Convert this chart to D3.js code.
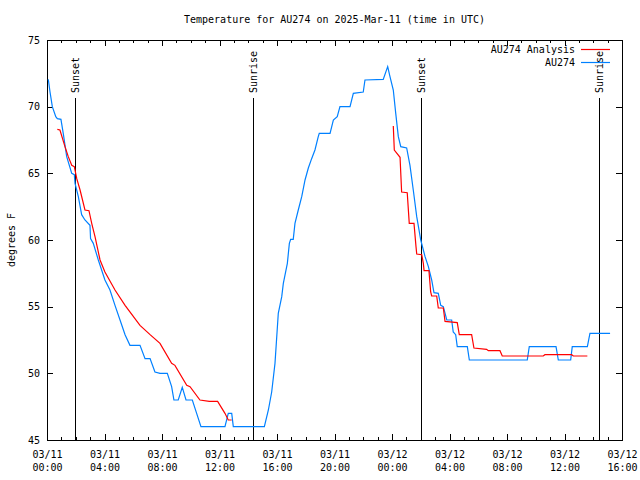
<!DOCTYPE html>
<html><head><meta charset="utf-8">
<script src="https://cdn.jsdelivr.net/npm/d3@7"></script>
<style>
body{margin:0;background:#fff;}
svg{display:block;}
text{font-family:"DejaVu Sans Mono",monospace;font-size:10px;fill:#000;}
</style></head><body>
<svg id="c" width="640" height="480"></svg>
<script>
const title = "Temperature for AU274 on 2025-Mar-11 (time in UTC)";
const yLabel = "degrees F";
const seriesNames = ["AU274 Analysis", "AU274"];
const seriesColors = ["#ff0000", "#0080ff"];
const startTime = Date.UTC(2025, 2, 11, 0, 0);
const endTime = Date.UTC(2025, 2, 12, 16, 0);
const yDomain = [45, 75];
const yTicks = [45, 50, 55, 60, 65, 70, 75];
const eventHours = [1.95, 14.35, 26.0, 38.4];
const eventLabels = ["Sunset", "Sunrise", "Sunset", "Sunrise"];

// AU274 observations: hours after 03/11 00:00 UTC, temperature (F)
const obsHours = [0.09,0.21,0.37,0.61,0.72,0.97,1.13,1.37,1.72,1.90,1.95,2.18,2.41,2.64,2.99,3.03,3.22,3.57,4.03,4.38,4.73,5.08,5.43,5.77,6.47,6.82,7.17,7.51,7.86,8.37,8.67,8.83,9.13,9.41,9.67,10.11,10.41,10.71,12.38,12.61,12.85,12.96,15.12,15.40,15.63,15.86,16.09,16.33,16.44,16.72,16.86,16.95,17.13,17.25,17.48,17.72,17.95,18.18,18.41,18.64,18.87,18.94,19.69,19.92,20.19,20.38,21.08,21.31,22.00,22.12,23.39,23.70,23.86,24.09,24.26,24.44,24.61,25.02,25.25,25.48,25.72,26.00,26.30,26.53,26.76,26.92,27.22,27.39,27.57,27.81,28.15,28.26,28.43,28.54,29.24,29.38,33.41,33.55,35.41,35.57,36.43,36.54,37.59,37.77,39.17];
const obsTemps = [72.05,71.1,70.0,69.25,69.1,69.05,68.0,66.25,65.0,64.9,64.25,63.25,61.9,61.5,61.1,60.1,59.75,58.5,57.0,56.25,55.1,54.0,52.9,52.1,52.1,51.1,51.1,50.1,50.0,50.0,49.0,48.0,48.0,48.95,48.0,48.0,47.0,46.0,46.0,47.0,47.0,46.0,46.0,47.25,48.6,50.75,54.5,55.75,56.75,58.25,59.75,60.05,60.05,61.25,62.25,63.25,64.5,65.4,66.1,66.75,67.75,68.0,68.0,69.0,69.25,70.0,70.0,71.0,71.1,72.0,72.05,73.0,72.25,71.25,69.5,67.75,67.0,66.9,65.6,63.75,61.75,60.0,58.75,58.0,57.0,56.05,56.0,55.1,55.0,54.0,54.0,53.1,52.9,52.0,52.0,51.0,51.0,52.0,52.0,51.0,51.0,52.0,52.0,53.0,53.0];

// AU274 Analysis (null = no data)
const anaHours = [0.72,0.90,1.25,1.48,1.72,1.90,2.07,2.30,2.64,2.92,3.11,3.34,3.69,4.03,4.73,5.43,6.47,7.17,7.86,8.67,8.90,9.72,9.95,10.64,11.29,11.87,12.38,12.61,12.85,18.0,24.09,24.16,24.56,24.67,25.06,25.20,25.53,25.67,25.72,26.07,26.18,26.23,26.57,26.69,26.76,27.11,27.22,27.57,27.69,28.54,28.68,29.54,29.70,30.58,30.70,31.51,31.67,34.52,34.64,36.50,36.61,37.59];
const anaTemps = [68.3,68.25,67.0,66.25,65.6,65.5,64.6,63.75,62.25,62.2,61.25,60.25,58.5,57.6,56.25,55.1,53.6,52.9,52.25,50.75,50.6,49.1,49.0,48.0,47.9,47.9,47.0,46.5,46.5,null,68.55,66.75,66.2,63.6,63.55,61.25,61.25,59.5,58.95,58.9,58.25,57.7,57.7,56.1,55.8,55.8,54.9,54.9,53.9,53.8,52.9,52.9,51.9,51.8,51.7,51.7,51.3,51.3,51.4,51.4,51.3,51.3];

const L = 47, R = 622, T = 40, B = 440;
const svg = d3.select("#c");
const toDate = h => new Date(startTime + h * 3600e3);

const x = d3.scaleUtc().domain([new Date(startTime), new Date(endTime)]).range([L, R]);
const y = d3.scaleLinear().domain(yDomain).range([B, T]);

// title
svg.append("text").attr("x", (L + R) / 2).attr("y", 23).attr("text-anchor", "middle").text(title);
// y label
svg.append("text").attr("transform", `translate(15,${(T + B) / 2}) rotate(-90)`)
  .attr("text-anchor", "middle").text(yLabel);

const fmtD = d3.utcFormat("%m/%d"), fmtH = d3.utcFormat("%H:%M");
const majorX = d3.utcHour.every(4), minorX = d3.utcHour.every(1);

// bottom axis major
const gb = svg.append("g").attr("transform", `translate(0,${B})`)
  .call(d3.axisBottom(x).ticks(majorX).tickSizeInner(-6).tickSizeOuter(0).tickFormat(d => fmtD(d)));
gb.selectAll(".tick text").each(function(d) {
  const t = d3.select(this).attr("y", null).attr("dy", null).text(null);
  t.append("tspan").attr("x", 0).attr("y", 18).text(fmtD(d));
  t.append("tspan").attr("x", 0).attr("y", 31).text(fmtH(d));
});
// bottom minor
svg.append("g").attr("transform", `translate(0,${B})`)
  .call(d3.axisBottom(x).ticks(minorX).tickSizeInner(-3).tickSizeOuter(0).tickFormat(""));
// top mirror
svg.append("g").attr("transform", `translate(0,${T})`)
  .call(d3.axisTop(x).ticks(majorX).tickSizeInner(-6).tickSizeOuter(0).tickFormat(""));
svg.append("g").attr("transform", `translate(0,${T})`)
  .call(d3.axisTop(x).ticks(minorX).tickSizeInner(-3).tickSizeOuter(0).tickFormat(""));
// left / right
const gl = svg.append("g").attr("transform", `translate(${L},0)`)
  .call(d3.axisLeft(y).tickValues(yTicks).tickSizeInner(-6).tickSizeOuter(0).tickPadding(7).tickFormat(d3.format("d")));
svg.append("g").attr("transform", `translate(${R},0)`)
  .call(d3.axisRight(y).tickValues(yTicks).tickSizeInner(-6).tickSizeOuter(0).tickFormat(""));
svg.selectAll(".domain").remove();
svg.selectAll(".tick line").attr("stroke", "#000").attr("shape-rendering", "crispEdges");
svg.selectAll(".tick text").attr("font-family", null).attr("font-size", null).attr("fill", null);

// frame
svg.append("rect").attr("x", L + 0.5).attr("y", T + 0.5).attr("width", R - L).attr("height", B - T)
  .attr("fill", "none").attr("stroke", "#000").attr("shape-rendering", "crispEdges");

// sunrise/sunset
eventHours.forEach((h, i) => {
  const xp = Math.round(x(toDate(h))) + 0.5;
  svg.append("line").attr("x1", xp).attr("x2", xp).attr("y1", 98).attr("y2", B)
    .attr("stroke", "#000").attr("shape-rendering", "crispEdges");
  svg.append("text").attr("transform", `translate(${xp},93) rotate(-90)`)
    .attr("dy", "0.35em").attr("text-anchor", "start").text(eventLabels[i]);
});

// series
const line = d3.line().defined(d => d.v != null).x(d => x(d.t)).y(d => y(d.v));
const obs = obsHours.map((h, i) => ({t: toDate(h), v: obsTemps[i]}));
const ana = anaHours.map((h, i) => ({t: toDate(h), v: anaTemps[i]}));
svg.append("path").datum(obs).attr("d", line).attr("fill", "none")
  .attr("stroke", seriesColors[1]).attr("stroke-width", 1.2);
svg.append("path").datum(ana).attr("d", line).attr("fill", "none")
  .attr("stroke", seriesColors[0]).attr("stroke-width", 1.2);

// legend
seriesNames.forEach((n, i) => {
  const yy = 49 + i * 13;
  svg.append("text").attr("x", 575).attr("y", yy + 4).attr("text-anchor", "end").text(n);
  svg.append("line").attr("x1", 581).attr("x2", 610).attr("y1", yy + 0.5).attr("y2", yy + 0.5)
    .attr("stroke", seriesColors[i]).attr("stroke-width", 1.2);
});
</script>
</body></html>
